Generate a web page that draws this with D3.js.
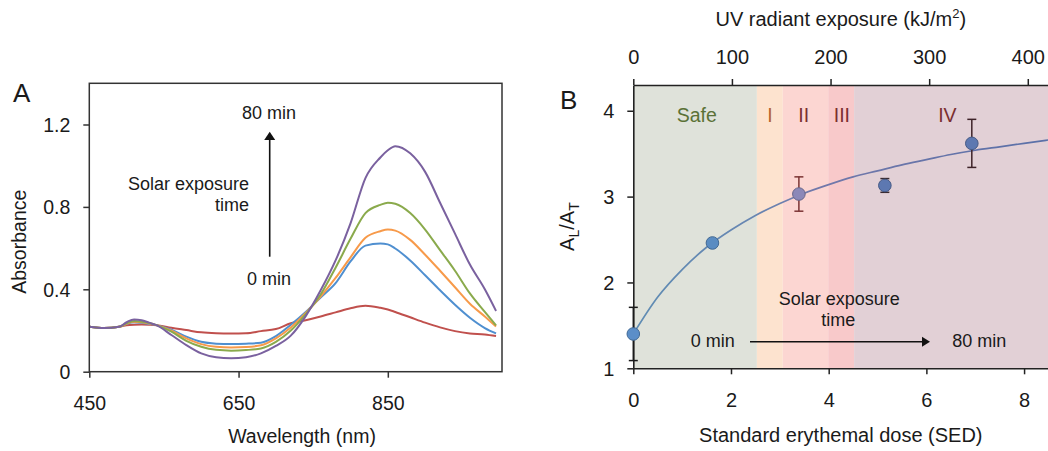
<!DOCTYPE html>
<html><head><meta charset="utf-8">
<script src="https://cdn.jsdelivr.net/npm/d3@7"></script>
<style>
body{margin:0;background:#fff;}
svg text{font-family:"Liberation Sans",Arial,Helvetica,sans-serif;fill:#1a1a1a;}
</style></head><body>
<svg id="c" width="1048" height="451"></svg>
<script>
// ---------- Panel A data ----------
const wavelengths = [450,470,490,500,510,520,530,540,560,580,600,620,640,660,680,700,720,740,760,780,800,820,840,850,860,880,900,920,940,960,980,995];
const abs0min  = [.218,.212,.218,.225,.228,.229,.228,.226,.213,.202,.191,.187,.186,.187,.197,.207,.235,.25,.268,.288,.308,.32,.31,.302,.29,.264,.238,.215,.197,.186,.181,.173];
const absSer2  = [.218,.212,.218,.232,.24,.237,.232,.226,.204,.17,.145,.136,.134,.136,.141,.173,.228,.29,.36,.43,.535,.612,.622,.618,.598,.54,.468,.395,.325,.262,.212,.186];
const absSer3  = [.218,.212,.218,.233,.243,.24,.234,.226,.199,.162,.134,.121,.118,.12,.128,.162,.215,.285,.365,.455,.555,.65,.682,.69,.685,.64,.568,.49,.41,.33,.268,.22];
const absSer4  = [.218,.212,.218,.235,.246,.243,.236,.226,.194,.15,.121,.106,.102,.105,.113,.145,.2,.28,.375,.505,.645,.77,.81,.82,.815,.77,.69,.59,.49,.38,.29,.225];
const abs80min = [.218,.212,.218,.24,.254,.25,.238,.226,.178,.129,.089,.07,.065,.07,.089,.125,.175,.27,.395,.54,.72,.94,1.04,1.075,1.095,1.06,.97,.82,.67,.52,.4,.295];
const seriesA = [abs0min, absSer2, absSer3, absSer4, abs80min];
const seriesAColors = ["#c0504d","#4f8fd0","#f79a4a","#8aaa4c","#7a619f"];
const xTicksA = [450,650,850];
const yTicksA = [0,0.4,0.8,1.2];

// ---------- Panel B data ----------
const sed = [0, 1.62, 3.39, 5.15, 6.93];
const ratio = [1.40, 2.46, 3.03, 3.13, 3.62];
const ratioErr = [0.31, 0.02, 0.20, 0.08, 0.28];
const fitSed = [0,0.5,1,1.5,2,2.5,3,3.5,4,4.5,5,5.5,6,6.5,7,7.5,8,8.5];
const fitRatio = [1.40,1.83,2.15,2.41,2.61,2.78,2.92,3.04,3.14,3.23,3.30,3.37,3.43,3.49,3.54,3.58,3.62,3.66];
const bandNames = ["Safe","I","II","III","IV"];
const bandEdges = [0, 2.53, 3.06, 3.99, 4.52, 8.5];
const bandLabelSed = [1.30, 2.80, 3.49, 4.27, 6.43];
const xTicksB = [0,2,4,6,8];
const xTopTicksB = [0,100,200,300,400];
const yTicksB = [1,2,3,4];

// styles
const bandFill = ["#dfe2da","#fde3cf","#fcd6d2","#f8c9ca","#e2d0d6"];
const bandText = ["#5a7136","#b5652f","#7b2f30","#7b2f30","#7b2f30"];
const pointFill = ["#5b8ec8","#5a8cc2","#8b88b8","#5d78b1","#5d78b1"];
const errColor = ["#1a1a1a","#333","#7b3434","#3a2a30","#3d2228"];

const svg = d3.select("#c");

// ================= Panel A =================
const xA = d3.scaleLinear().domain([450,1003]).range([89.3,502]);
const yA = d3.scaleLinear().domain([0,1.4]).range([371.7,83.3]);

const gA = svg.append("g");
const lineA = d3.line().x((d,i)=>xA(wavelengths[i])).y(d=>yA(d)).curve(d3.curveMonotoneX);
seriesA.forEach((s,k)=>{
  gA.append("path").attr("d", lineA(s)).attr("fill","none")
    .attr("stroke", seriesAColors[k]).attr("stroke-width",2);
});
gA.append("rect").attr("x",xA(450)).attr("y",yA(1.4))
  .attr("width",xA(1003)-xA(450)).attr("height",yA(0)-yA(1.4))
  .attr("fill","none").attr("stroke","#333").attr("stroke-width",1.5);

const axLA = gA.append("g").attr("transform",`translate(${xA(450)},0)`)
  .call(d3.axisLeft(yA).tickValues(yTicksA).tickSize(6).tickPadding(13).tickSizeOuter(0)
    .tickFormat(d=> d===0 ? "0" : d3.format(".1f")(d)));
axLA.select(".domain").remove();
axLA.selectAll("line").attr("stroke","#333").attr("stroke-width",1.5);
axLA.selectAll("text").attr("font-size",19.5).attr("dy","0.35em").style("fill","#1a1a1a");

const axBA = gA.append("g").attr("transform",`translate(0,${yA(0)})`)
  .call(d3.axisBottom(xA).tickValues(xTicksA).tickSize(6).tickSizeOuter(0));
axBA.select(".domain").remove();
axBA.selectAll("line").attr("stroke","#333").attr("stroke-width",1.5);
axBA.selectAll("text").attr("font-size",19.5).attr("y",38.3).attr("dy",0).style("fill","#1a1a1a");

gA.append("text").attr("x",302).attr("y",443).attr("text-anchor","middle")
  .attr("font-size",19.5).text("Wavelength (nm)");
gA.append("text").attr("transform","translate(26,241.7) rotate(-90)").attr("text-anchor","middle")
  .attr("font-size",19.5).text("Absorbance");
gA.append("text").attr("x",13).attr("y",101.7).attr("font-size",26).text("A");

// annotation A
gA.append("text").attr("x",269).attr("y",119.3).attr("text-anchor","middle").attr("font-size",18).text("80 min");
gA.append("text").attr("x",249).attr("y",190).attr("text-anchor","end").attr("font-size",18).text("Solar exposure");
gA.append("text").attr("x",249).attr("y",211).attr("text-anchor","end").attr("font-size",18).text("time");
gA.append("text").attr("x",269).attr("y",285).attr("text-anchor","middle").attr("font-size",18).text("0 min");
gA.append("line").attr("x1",269.7).attr("x2",269.7).attr("y1",256.7).attr("y2",139)
  .attr("stroke","#111").attr("stroke-width",1.6);
gA.append("path").attr("d","M269.7,131.7 L275.2,140 L264.2,140 Z").attr("fill","#111");

// ================= Panel B =================
const xB = d3.scaleLinear().domain([0,8.5]).range([633.3,1048.5]);
const xTop = d3.scaleLinear().domain([0,421]).range([633.3,1048.5]);
const yB = d3.scaleLinear().domain([1,4.3]).range([368.3,85]);
const gB = svg.append("g");

bandNames.forEach((n,i)=>{
  gB.append("rect").attr("x",xB(bandEdges[i])).attr("y",yB(4.3))
    .attr("width",xB(bandEdges[i+1])-xB(bandEdges[i])).attr("height",yB(1)-yB(4.3))
    .attr("fill",bandFill[i]);
  gB.append("text").attr("x",xB(bandLabelSed[i])).attr("y",122.3).attr("text-anchor","middle")
    .attr("font-size",19.5).style("fill",bandText[i]).text(n);
});

// gradient for fit line
const defs = svg.append("defs");
const grad = defs.append("linearGradient").attr("id","fitg").attr("gradientUnits","userSpaceOnUse")
  .attr("x1",xB(0)).attr("x2",xB(8.5)).attr("y1",0).attr("y2",0);
grad.append("stop").attr("offset","0").attr("stop-color","#5f8cb3");
grad.append("stop").attr("offset","0.28").attr("stop-color","#6786b2");
grad.append("stop").attr("offset","0.45").attr("stop-color","#7278aa");
grad.append("stop").attr("offset","1").attr("stop-color","#5a70a8");

const lineB = d3.line().x((d,i)=>xB(fitSed[i])).y(d=>yB(d)).curve(d3.curveMonotoneX);
gB.append("path").attr("d",lineB(fitRatio)).attr("fill","none")
  .attr("stroke","url(#fitg)").attr("stroke-width",1.7);

// axes B
const axLB = gB.append("g").attr("transform",`translate(${xB(0)},0)`)
  .call(d3.axisLeft(yB).tickValues(yTicksB).tickSize(6).tickPadding(13).tickSizeOuter(0).tickFormat(d3.format("d")));
axLB.select(".domain").attr("stroke","#222").attr("stroke-width",1.6);
axLB.selectAll("line").attr("stroke","#222").attr("stroke-width",1.5);
axLB.selectAll("text").attr("font-size",20).attr("dy","0.35em").style("fill","#1a1a1a");

const axBB = gB.append("g").attr("transform",`translate(0,${yB(1)})`)
  .call(d3.axisBottom(xB).tickValues(xTicksB).tickSize(6).tickSizeOuter(0).tickFormat(d3.format("d")));
axBB.select(".domain").attr("stroke","#222").attr("stroke-width",1.6);
axBB.selectAll("line").attr("stroke","#222").attr("stroke-width",1.5);
axBB.selectAll("text").attr("font-size",20).attr("y",38.4).attr("dy",0).style("fill","#1a1a1a");

const axTB = gB.append("g").attr("transform",`translate(0,${yB(4.3)})`)
  .call(d3.axisTop(xTop).tickValues(xTopTicksB).tickSize(6).tickSizeOuter(0).tickFormat(d3.format("d")));
axTB.select(".domain").attr("stroke","#222").attr("stroke-width",1.6);
axTB.selectAll("line").attr("stroke","#222").attr("stroke-width",1.5);
axTB.selectAll("text").attr("font-size",20).attr("y",-21).attr("dy",0).style("fill","#1a1a1a");

// error bars + points
sed.forEach((s,i)=>{
  const x = xB(s), y1 = yB(ratio[i]-ratioErr[i]), y2 = yB(ratio[i]+ratioErr[i]);
  gB.append("line").attr("x1",x).attr("x2",x).attr("y1",y1).attr("y2",y2)
    .attr("stroke",errColor[i]).attr("stroke-width",1.5);
  [y1,y2].forEach(yy=>gB.append("line").attr("x1",x-4.5).attr("x2",x+4.5).attr("y1",yy).attr("y2",yy)
    .attr("stroke",errColor[i]).attr("stroke-width",1.5));
});
sed.forEach((s,i)=>{
  gB.append("circle").attr("cx",xB(s)).attr("cy",yB(ratio[i])).attr("r",6.3)
    .attr("fill",pointFill[i]).attr("stroke",d3.color(pointFill[i]).darker(0.8)).attr("stroke-width",1);
});

// titles B
const tt = gB.append("text").attr("x",840.8).attr("y",26).attr("text-anchor","middle").attr("font-size",20);
tt.append("tspan").text("UV radiant exposure (kJ/m");
tt.append("tspan").attr("dy",-8).attr("font-size",13).text("2");
tt.append("tspan").attr("dy",8).text(")");
gB.append("text").attr("x",840.8).attr("y",441.7).attr("text-anchor","middle").attr("font-size",20)
  .text("Standard erythemal dose (SED)");
const yt = gB.append("text").attr("transform","translate(573.5,226.6) rotate(-90)").attr("text-anchor","middle").attr("font-size",20);
yt.append("tspan").text("A");
yt.append("tspan").attr("dy",5).attr("font-size",14).text("L");
yt.append("tspan").attr("dy",-5).text("/A");
yt.append("tspan").attr("dy",5).attr("font-size",14).text("T");
gB.append("text").attr("x",560).attr("y",109).attr("font-size",26).text("B");

// annotation B
gB.append("text").attr("x",839.2).attr("y",305).attr("text-anchor","middle").attr("font-size",18).text("Solar exposure");
gB.append("text").attr("x",838.3).attr("y",326).attr("text-anchor","middle").attr("font-size",18).text("time");
gB.append("text").attr("x",712.7).attr("y",346.7).attr("text-anchor","middle").attr("font-size",18).text("0 min");
gB.append("text").attr("x",979.3).attr("y",346.7).attr("text-anchor","middle").attr("font-size",18).text("80 min");
gB.append("line").attr("x1",750).attr("x2",923).attr("y1",341.7).attr("y2",341.7)
  .attr("stroke","#111").attr("stroke-width",1.5);
gB.append("path").attr("d","M930,341.7 L922,336.7 L922,346.7 Z").attr("fill","#111");
</script></body></html>
